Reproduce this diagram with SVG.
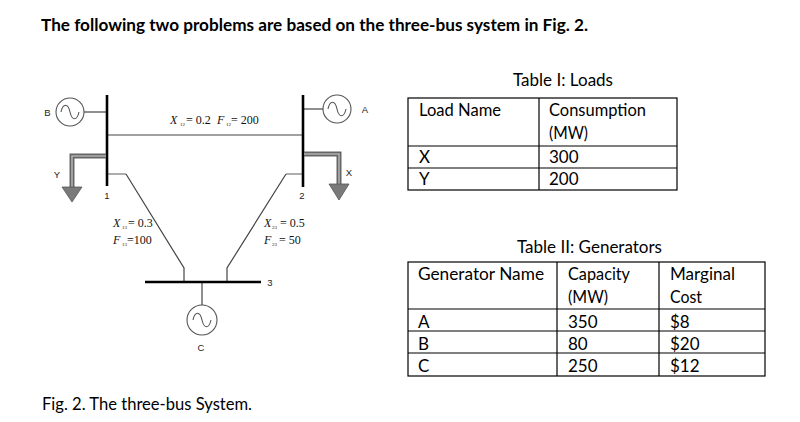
<svg xmlns="http://www.w3.org/2000/svg" width="800" height="422" viewBox="0 0 800 422">
<style>
.bg{fill:#fff}
.doc{font-family:Lato,"Open Sans","Liberation Sans",sans-serif;font-size:17px;fill:#000}
.bold{font-weight:bold}
.lbl{font-family:"Liberation Sans",Arial,sans-serif;font-size:9.5px;fill:#222;text-anchor:middle}
.math{font-family:"Liberation Serif","Times New Roman",serif;font-size:12px;fill:#111}
.mi{font-style:italic}
.sub{font-size:5px}
.bus{stroke:#000;stroke-width:2.6;fill:none}
.line{stroke:#444;stroke-width:1.2;fill:none}
.stub{stroke:#999;stroke-width:1.6;fill:none}
.gen{fill:#fff;stroke:#555;stroke-width:1.1}
.wave{fill:none;stroke:#555;stroke-width:1.1}
.loadO{stroke:#666;stroke-width:5;fill:none}
.loadI{stroke:#b0b0b0;stroke-width:1.6;fill:none}
.tri{fill:#7a7a7a;stroke:#555;stroke-width:0.8}
.grid{stroke:#000;stroke-width:1.2;fill:none}
</style>
<rect class="bg" x="0" y="0" width="800" height="422"/>
<text class="doc bold" x="41" y="31" textLength="547" lengthAdjust="spacingAndGlyphs">The following two problems are based on the three-bus system in Fig. 2.</text>

<g id="connectors">
<line class="line" x1="107" y1="135" x2="303" y2="135"/>
<line class="stub" x1="107" y1="174" x2="126" y2="174"/>
<path class="line" d="M126,174 L184,268 V282"/>
<line class="stub" x1="303" y1="174" x2="286" y2="174"/>
<path class="line" d="M286,174 L227,268 V282"/>
<line class="line" x1="84" y1="112" x2="107" y2="112"/>
<line class="line" x1="303" y1="109" x2="323" y2="109"/>
<line class="line" x1="202" y1="282" x2="202" y2="305"/>
</g>

<g id="bus1">
<line class="bus" x1="107" y1="95" x2="107" y2="186"/>
<text class="lbl" x="107" y="199">1</text>
</g>
<g id="bus2">
<line class="bus" x1="303" y1="95" x2="303" y2="187"/>
<text class="lbl" x="302" y="199">2</text>
</g>
<g id="bus3">
<line class="bus" x1="145" y1="282" x2="261" y2="282"/>
<text class="lbl" x="270" y="286">3</text>
</g>

<g id="genB">
<circle class="gen" cx="70" cy="112" r="14"/>
<path class="wave" d="M61,112 C63,103 68,103 70,112 C72,121 77,121 79,112"/>
<text class="lbl" x="47.5" y="115.5">B</text>
</g>
<g id="genA">
<circle class="gen" cx="337" cy="109" r="14"/>
<path class="wave" d="M328,109 C330,100 335,100 337,109 C339,118 344,118 346,109"/>
<text class="lbl" x="365" y="112.5">A</text>
</g>
<g id="genC">
<circle class="gen" cx="202" cy="320" r="15"/>
<path class="wave" d="M193,320 C195,311 200,311 202,320 C204,329 209,329 211,320"/>
<text class="lbl" x="201" y="350.5">C</text>
</g>

<g id="loadY">
<path class="loadO" d="M106,156 H72 V188"/>
<path class="loadI" d="M106,156 H72 V188"/>
<polygon class="tri" points="62,187 82,187 72,202"/>
<text class="lbl" x="57" y="177.5">Y</text>
</g>
<g id="loadX">
<path class="loadO" d="M304,154 H339 V185"/>
<path class="loadI" d="M304,154 H339 V185"/>
<polygon class="tri" points="329,184 349,184 339,200"/>
<text class="lbl" x="349" y="175.5">X</text>
</g>

<g id="line-labels">
<text class="math" y="124"><tspan class="mi" x="170">X</tspan><tspan class="sub" x="180" dy="2">12</tspan><tspan x="186" dy="-2">= 0.2</tspan><tspan class="mi" x="217">F</tspan><tspan class="sub" x="226" dy="2">12</tspan><tspan x="231" dy="-2">= 200</tspan></text>
<text class="math" y="227"><tspan class="mi" x="113">X</tspan><tspan class="sub" x="122" dy="2">13</tspan><tspan x="128" dy="-2">= 0.3</tspan></text>
<text class="math" y="244"><tspan class="mi" x="113">F</tspan><tspan class="sub" x="122" dy="2">13</tspan><tspan x="127" dy="-2">=100</tspan></text>
<text class="math" y="227"><tspan class="mi" x="264">X</tspan><tspan class="sub" x="272" dy="2">23</tspan><tspan x="280" dy="-2">= 0.5</tspan></text>
<text class="math" y="244"><tspan class="mi" x="264">F</tspan><tspan class="sub" x="272" dy="2">23</tspan><tspan x="279" dy="-2">= 50</tspan></text>
</g>

<text class="doc" x="42" y="410" textLength="210" lengthAdjust="spacingAndGlyphs">Fig. 2. The three-bus System.</text>

<g id="table1">
<text class="doc" x="513" y="86" textLength="100" lengthAdjust="spacingAndGlyphs">Table I: Loads</text>
<rect class="grid" x="408" y="98" width="269" height="92"/>
<line class="grid" x1="539" y1="98" x2="539" y2="190"/>
<line class="grid" x1="408" y1="146" x2="677" y2="146"/>
<line class="grid" x1="408" y1="168" x2="677" y2="168"/>
<text class="doc" x="419" y="116" textLength="82" lengthAdjust="spacingAndGlyphs">Load Name</text>
<text class="doc" x="549" y="116" textLength="97" lengthAdjust="spacingAndGlyphs">Consumption</text>
<text class="doc" x="549" y="139" textLength="39" lengthAdjust="spacingAndGlyphs">(MW)</text>
<text class="doc" x="419" y="163">X</text>
<text class="doc" x="549" y="163">300</text>
<text class="doc" x="419" y="185">Y</text>
<text class="doc" x="549" y="185">200</text>
</g>

<g id="table2">
<text class="doc" x="517" y="253" textLength="145" lengthAdjust="spacingAndGlyphs">Table II: Generators</text>
<rect class="grid" x="408" y="262" width="357" height="114"/>
<line class="grid" x1="557" y1="262" x2="557" y2="376"/>
<line class="grid" x1="659" y1="262" x2="659" y2="376"/>
<line class="grid" x1="408" y1="309" x2="765" y2="309"/>
<line class="grid" x1="408" y1="331" x2="765" y2="331"/>
<line class="grid" x1="408" y1="353" x2="765" y2="353"/>
<text class="doc" x="418" y="280" textLength="126" lengthAdjust="spacingAndGlyphs">Generator Name</text>
<text class="doc" x="568" y="280" textLength="62" lengthAdjust="spacingAndGlyphs">Capacity</text>
<text class="doc" x="670" y="280" textLength="65" lengthAdjust="spacingAndGlyphs">Marginal</text>
<text class="doc" x="568" y="303" textLength="40" lengthAdjust="spacingAndGlyphs">(MW)</text>
<text class="doc" x="670" y="303" textLength="32" lengthAdjust="spacingAndGlyphs">Cost</text>
<text class="doc" x="418" y="328">A</text>
<text class="doc" x="568" y="328">350</text>
<text class="doc" x="670" y="328">$8</text>
<text class="doc" x="418" y="350">B</text>
<text class="doc" x="568" y="350">80</text>
<text class="doc" x="670" y="350">$20</text>
<text class="doc" x="418" y="372">C</text>
<text class="doc" x="568" y="372">250</text>
<text class="doc" x="670" y="372">$12</text>
</g>
</svg>
